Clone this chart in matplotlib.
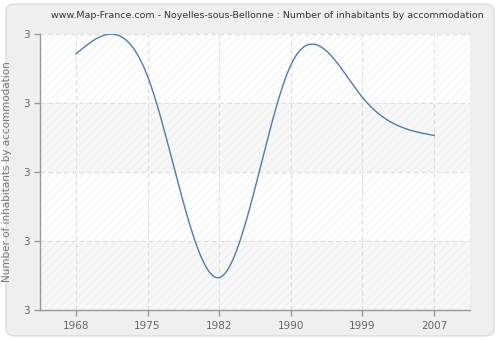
import numpy as np
import matplotlib.pyplot as plt
from matplotlib.patches import FancyBboxPatch, Rectangle
from matplotlib.ticker import FuncFormatter

# data
years = ["1968", "1975", "1982", "1990", "1999", "2007"]
values = [3.171, 3.139, 2.847, 3.155, 3.108, 3.053]

y_min, y_max = 2.8, 3.2
y_ticks = [2.8, 2.9, 3.0, 3.1, 3.2]


# natural cubic spline through the points (smooth line like the original)
def natural_spline(xs, ys, num=400):
    xs = np.asarray(xs, float)
    ys = np.asarray(ys, float)
    n = len(xs)
    h = np.diff(xs)
    A = np.zeros((n, n))
    rhs = np.zeros(n)
    A[0, 0] = 1
    A[-1, -1] = 1
    for i in range(1, n - 1):
        A[i, i - 1] = h[i - 1]
        A[i, i] = 2 * (h[i - 1] + h[i])
        A[i, i + 1] = h[i]
        rhs[i] = 6 * ((ys[i + 1] - ys[i]) / h[i] - (ys[i] - ys[i - 1]) / h[i - 1])
    M = np.linalg.solve(A, rhs)
    xx = np.linspace(xs[0], xs[-1], num)
    yy = np.zeros_like(xx)
    for k, x in enumerate(xx):
        i = min(np.searchsorted(xs, x, side="right") - 1, n - 2)
        t0 = xs[i + 1] - x
        t1 = x - xs[i]
        yy[k] = (M[i] * t0**3 + M[i + 1] * t1**3) / (6 * h[i]) \
            + (ys[i] / h[i] - M[i] * h[i] / 6) * t0 \
            + (ys[i + 1] / h[i] - M[i + 1] * h[i] / 6) * t1
    return xx, yy


pos = np.arange(len(years))
xs, ys = natural_spline(pos, values)

plt.rcParams["font.family"] = ["DejaVu Sans"]
plt.rcParams["hatch.linewidth"] = 0.5
plt.rcParams["hatch.color"] = "#ebebeb"

fig = plt.figure(figsize=(5, 3.4), dpi=100)
fig.patch.set_facecolor("white")
bg = FancyBboxPatch((0.012, 0.012), 0.976, 0.976, boxstyle="round,pad=0,rounding_size=0.02",
                    transform=fig.transFigure, facecolor="#efefef", edgecolor="#dcdcdc",
                    linewidth=1, zorder=-10)
fig.patches.append(bg)

ax = fig.add_axes([0.08, 0.0882, 0.86, 0.8118])
ax.set_facecolor("white")

# alternating bands + hatch
for i in range(len(y_ticks) - 1):
    if i % 2 == 0:
        ax.axhspan(y_ticks[i], y_ticks[i + 1], color="#f7f7f7", lw=0, zorder=0)
ax.add_patch(Rectangle((0, 0), 1, 1, transform=ax.transAxes, facecolor="none",
                       edgecolor="#ebebeb", hatch="////", lw=0, zorder=0.5))

ax.plot(xs, ys, color="#4f7bb0", lw=1.0, zorder=3)

ax.set_xlim(-0.5, 5.5)
ax.set_ylim(y_min, y_max)
ax.set_xticks(pos)
ax.set_xticklabels(years)
ax.set_yticks(y_ticks)
ax.yaxis.set_major_formatter(FuncFormatter(lambda v, p: f"{v:.0f}"))

ax.grid(True, color="#dddddd", linestyle=(0, (4, 3)), lw=0.8, zorder=1)
for s in ["top", "right"]:
    ax.spines[s].set_visible(False)
for s in ["left", "bottom"]:
    ax.spines[s].set_color("#999999")
    ax.spines[s].set_linewidth(1)
ax.tick_params(colors="#999999", labelcolor="#666666", labelsize=7.5, length=4, width=1)
ax.tick_params(axis="x", pad=4)

ax.set_ylabel("Number of inhabitants by accommodation", color="#777777", fontsize=7.5)
ax.yaxis.set_label_coords(-0.065, 0.5)
fig.text(0.535, 0.955, "www.Map-France.com - Noyelles-sous-Bellonne : Number of inhabitants by accommodation",
         ha="center", va="center", fontsize=6.8, color="#333333")

fig.savefig("out.png", dpi=100)
